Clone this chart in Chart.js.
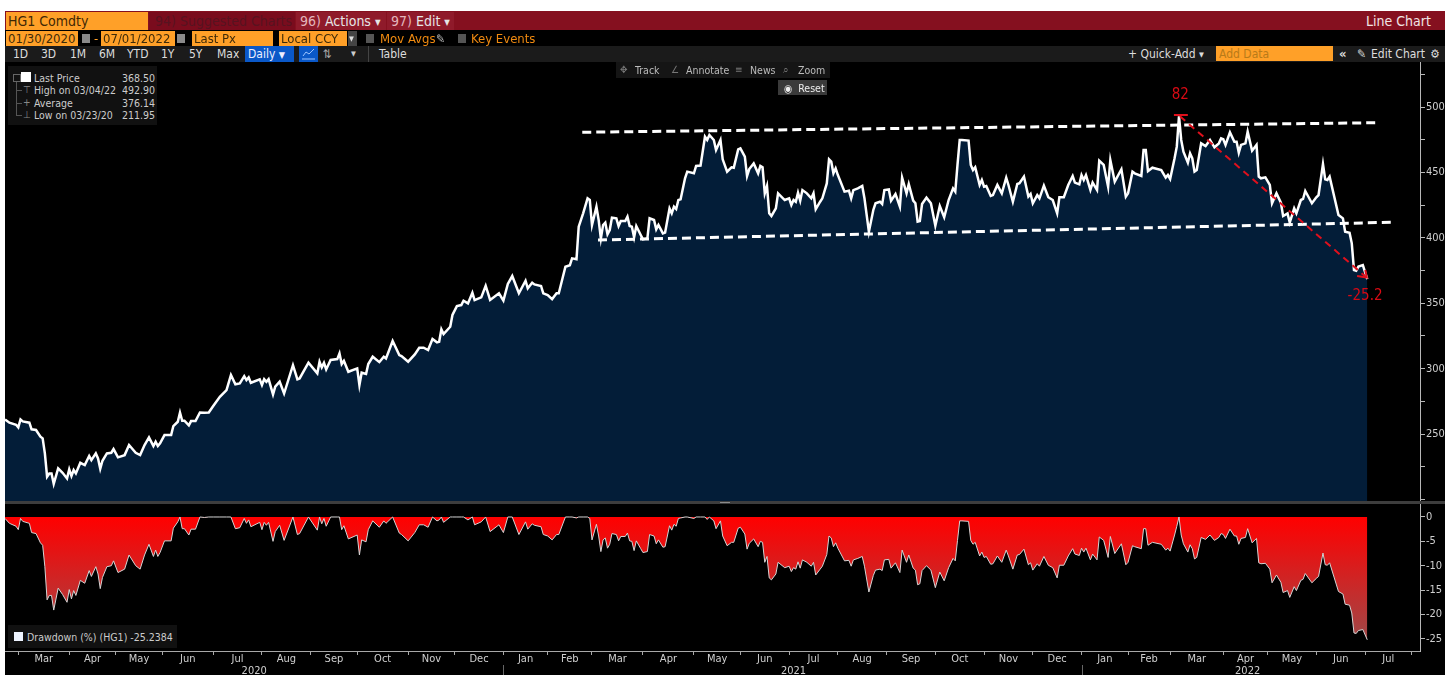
<!DOCTYPE html>
<html><head><meta charset="utf-8">
<script src="https://cdn.jsdelivr.net/npm/chart.js@4"></script>
<style>
html,body{margin:0;padding:0;background:#fff;overflow:hidden;width:1452px;height:675px}
#screen{position:absolute;left:5px;top:11px;width:1440px;height:664px;background:#000}
canvas{position:absolute;left:0;top:0}
.t{position:absolute;white-space:nowrap;font-family:"DejaVu Sans Condensed","DejaVu Sans",sans-serif;line-height:16px;height:16px}
.b{position:absolute}
.o{background:#ffa028;color:#3f2b08}
</style></head><body>
<div id="screen"></div>
<canvas id="c" width="1452" height="675"></canvas>
<!-- row 1 -->
<div class="b" style="left:5px;top:11px;width:1440px;height:19px;background:#85101f"></div>
<div class="b" style="left:149px;top:12px;width:146px;height:18px;background:#7a0c1d"></div>
<div class="b" style="left:296px;top:12px;width:90px;height:18px;background:#8f1a2a"></div>
<div class="b" style="left:387px;top:12px;width:67px;height:18px;background:#8f1a2a"></div>
<div class="t o" style="left:6px;top:12px;width:137px;height:18px;line-height:19px;padding-left:2px;font-size:14px;color:#3f2805;padding-right:3px">HG1 Comdty</div>
<div class="t" style="left:155px;top:12px;font-size:14px;line-height:18px;color:#571320">94) Suggested Charts</div>
<div class="t" style="left:300px;top:12px;font-size:14px;line-height:18px;color:#e6e6e6"><span style="color:#e3b5bc">96)</span> Actions <span style="font-size:8px;vertical-align:1px">▼</span></div>
<div class="t" style="left:391px;top:12px;font-size:14px;line-height:18px;color:#e6e6e6"><span style="color:#e3b5bc">97)</span> Edit <span style="font-size:8px;vertical-align:1px">▼</span></div>
<div class="t" style="left:1366px;top:12px;font-size:14px;line-height:18px;color:#f0e4e4">Line Chart</div>
<!-- row 2 -->
<div class="t o" style="left:6px;top:31px;width:70px;padding-left:2px;font-size:13px">01/30/2020</div>
<div class="b" style="left:82px;top:34px;width:8px;height:9px;background:#8a8a8a"></div>
<div class="t" style="left:94px;top:31px;font-size:13px;color:#ffa028">-</div>
<div class="t o" style="left:101px;top:31px;width:72px;padding-left:2px;font-size:13px">07/01/2022</div>
<div class="b" style="left:177px;top:34px;width:8px;height:9px;background:#8a8a8a"></div>
<div class="t o" style="left:192px;top:31px;width:79px;padding-left:2px;font-size:13px">Last Px</div>
<div class="t o" style="left:279px;top:31px;width:66px;padding-left:2px;font-size:13px">Local CCY</div>
<div class="b" style="left:348px;top:31px;width:9px;height:16px;background:#444"></div>
<div class="t" style="left:349px;top:31px;font-size:7px;color:#ddd">▼</div>
<div class="b" style="left:366px;top:34px;width:8px;height:9px;background:#555"></div>
<div class="t" style="left:380px;top:31px;font-size:13px;color:#f08a10">Mov Avgs</div>
<div class="t" style="left:436px;top:31px;font-size:12px;color:#bbb">✎</div>
<div class="b" style="left:458px;top:34px;width:8px;height:9px;background:#555"></div>
<div class="t" style="left:471px;top:31px;font-size:13px;color:#f08a10">Key Events</div>
<!-- row 3 -->
<div class="b" style="left:5px;top:46px;width:1440px;height:16px;background:#1b1b1b"></div>
<div class="t" style="left:13px;top:46px;font-size:12px;color:#ddd">1D</div>
<div class="t" style="left:41px;top:46px;font-size:12px;color:#ddd">3D</div>
<div class="t" style="left:70px;top:46px;font-size:12px;color:#ddd">1M</div>
<div class="t" style="left:99px;top:46px;font-size:12px;color:#ddd">6M</div>
<div class="t" style="left:127px;top:46px;font-size:12px;color:#ddd">YTD</div>
<div class="t" style="left:161px;top:46px;font-size:12px;color:#ddd">1Y</div>
<div class="t" style="left:189px;top:46px;font-size:12px;color:#ddd">5Y</div>
<div class="t" style="left:217px;top:46px;font-size:12px;color:#ddd">Max</div>
<div class="t" style="left:245px;top:46px;width:46px;padding-left:3px;background:#0a58c8;font-size:12px;color:#eef">Daily <span style="font-size:9px">▼</span></div>
<div class="b" style="left:299px;top:46px;width:19px;height:16px;background:#0a58c8"></div>
<svg class="b" style="left:302px;top:48px" width="13" height="12"><polyline points="1,8 4,4 7,6 12,1" fill="none" stroke="#9cc4ff" stroke-width="1"/><line x1="0" y1="11" x2="13" y2="11" stroke="#9cc4ff"/></svg>
<div class="t" style="left:323px;top:46px;font-size:12px;color:#aaa">⇅</div>
<div class="t" style="left:351px;top:46px;font-size:7px;color:#ccc">▼</div>
<div class="b" style="left:368px;top:46px;width:1px;height:16px;background:#444"></div>
<div class="t" style="left:379px;top:46px;font-size:12px;color:#ddd">Table</div>
<div class="t" style="left:1128px;top:46px;font-size:12px;color:#ddd">+ Quick-Add <span style="font-size:7px;vertical-align:1px">▼</span></div>
<div class="t o" style="left:1216px;top:46px;width:114px;padding-left:3px;font-size:12px;color:#b87a18;height:15px">Add Data</div>
<div class="t" style="left:1339px;top:46px;font-size:13px;font-weight:bold;color:#ddd">«</div>
<div class="t" style="left:1357px;top:46px;font-size:12px;color:#ddd">✎</div>
<div class="t" style="left:1371px;top:46px;font-size:12px;color:#ddd">Edit Chart</div>
<div class="t" style="left:1430px;top:46px;font-size:12px;color:#ddd">⚙</div>
<!-- chart tools -->
<div class="b" style="left:616px;top:62px;width:214px;height:16px;background:#151515"></div>
<div class="t" style="left:620px;top:62px;font-size:10px;color:#777">✥</div>
<div class="t" style="left:635px;top:62px;font-size:10.5px;color:#bbb">Track</div>
<div class="t" style="left:671px;top:62px;font-size:10px;color:#777">∠</div>
<div class="t" style="left:686px;top:62px;font-size:10.5px;color:#bbb">Annotate</div>
<div class="t" style="left:735px;top:62px;font-size:10px;color:#777">≡</div>
<div class="t" style="left:750px;top:62px;font-size:10.5px;color:#bbb">News</div>
<div class="t" style="left:783px;top:62px;font-size:10px;color:#777">⌕</div>
<div class="t" style="left:798px;top:62px;font-size:10.5px;color:#bbb">Zoom</div>
<div class="b" style="left:778px;top:80px;width:49px;height:15px;background:#3a3a3a"></div>
<div class="t" style="left:784px;top:80px;font-size:10.5px;color:#eee">◉&nbsp;&nbsp;Reset</div>
<!-- legends -->
<div class="b" style="left:8px;top:66px;width:149px;height:59px;background:#111"></div>
<div class="b" style="left:16px;top:82px;width:1px;height:33px;background:#555"></div>
<div class="b" style="left:16px;top:90px;width:6px;height:1px;background:#555"></div>
<div class="b" style="left:16px;top:103px;width:6px;height:1px;background:#555"></div>
<div class="b" style="left:16px;top:115px;width:6px;height:1px;background:#555"></div>
<div class="b" style="left:13px;top:74px;width:6px;height:6px;border:1px solid #666"></div>
<div class="b" style="left:21px;top:72px;width:10px;height:10px;background:#fff"></div>
<div class="t" style="left:23px;top:82px;font-size:10px;color:#888">⊤</div>
<div class="t" style="left:23px;top:95px;font-size:10px;color:#888">+</div>
<div class="t" style="left:23px;top:107px;font-size:10px;color:#888">⊥</div>
<div class="t" style="left:34px;top:70px;font-size:10.5px;color:#ccc">Last Price</div>
<div class="t" style="left:122px;top:70px;font-size:10.5px;color:#ccc">368.50</div>
<div class="t" style="left:34px;top:82px;font-size:10.5px;color:#ccc">High on 03/04/22</div>
<div class="t" style="left:122px;top:82px;font-size:10.5px;color:#ccc">492.90</div>
<div class="t" style="left:34px;top:95px;font-size:10.5px;color:#ccc">Average</div>
<div class="t" style="left:122px;top:95px;font-size:10.5px;color:#ccc">376.14</div>
<div class="t" style="left:34px;top:107px;font-size:10.5px;color:#ccc">Low on 03/23/20</div>
<div class="t" style="left:122px;top:107px;font-size:10.5px;color:#ccc">211.95</div>
<div class="b" style="left:8px;top:625px;width:169px;height:23px;background:#111"></div>
<div class="b" style="left:14px;top:632px;width:9px;height:9px;background:#eef4ff"></div>
<div class="t" style="left:27px;top:629px;font-size:10.5px;color:#ccc">Drawdown (%) (HG1) -25.2384</div>
<script>
const sessions = [
-6,-4,-1,0,1,2,5,6,8,10,
11,12,13,14,15,16,18,20,22,23,
24,25,26,28,30,32,33,35,36,37,
38,40,42,43,45,48,50,53,55,57,
59,61,62,63,64,66,69,70,72,73,
74,75,77,78,80,82,84,86,88,91,
94,96,98,100,102,103,104,105,109,110,
111,112,113,115,116,118,120,124,126,127,
131,135,136,137,138,139,141,144,145,146,
147,149,153,154,155,157,158,160,163,165,
166,169,172,173,176,179,181,183,185,187,
189,190,191,192,195,196,198,200,201,203,
205,206,209,211,213,217,219,221,223,226,
229,230,232,233,236,237,239,241,243,244,
247,249,250,252,253,255,257,258,259,261,
262,263,264,265,266,267,268,270,271,272,
274,275,276,277,278,279,281,282,284,285,
287,288,289,291,292,294,295,296,297,298,
299,301,302,305,306,308,310,311,312,314,
315,317,318,320,322,323,325,326,328,329,
330,332,334,335,336,337,338,339,340,342,
343,346,348,349,350,351,352,353,354,356,
358,359,360,362,363,365,366,367,368,369,
370,373,375,376,377,379,381,382,384,386,
387,389,390,391,393,394,396,398,399,401,
402,404,405,406,407,408,410,412,414,416,
418,420,422,423,424,425,426,429,430,431,
432,434,435,436,437,439,440,442,444,446,
447,449,451,452,454,456,457,458,460,461,
463,465,467,469,470,472,474,476,477,479,
480,481,482,484,485,487,488,490,492,493,
495,498,500,501,503,504,507,508,509,510,
512,516,518,519,520,522,523,524,525,526,
528,529,530,531,532,534,536,538,540,542,
543,544,545,547,549,550,551,552,554,555,
557,559,560,561,563,565,566,568,570,571,
573,574,576,577,579,580,581,584,586,587,
589,590,591,592,596,598,599,601,602,603,
604,605,607,609];
const lastPrice = [
261.2,258.7,257.1,255.1,261.2,259.7,258.7,253.6,253.1,248,
246.7,235.2,217.4,219.9,219.9,212,223.7,220.4,216.1,223,
217.9,222.5,219.9,228,226.3,233.2,230.1,235.2,231.4,223.5,
229.6,235.2,235.7,238.5,232.2,233.9,241.6,235.7,233.9,241.6,
247.4,240.8,244.1,240.8,242.9,249.2,249.2,256.1,259.4,266.5,
260.2,260.2,256.6,259.9,259.9,266.5,266.3,266.5,271.4,278.5,
283.6,295.1,288,288.7,294.3,291.3,293.3,289.2,291.8,287.5,
292,290,292,280.3,286.2,290,281,302.7,291.8,292.5,
304.5,296.4,305.3,301,304.5,299.4,306.6,307.3,311.7,303.5,
306,297.6,300.2,287.4,296.9,295.9,303.5,309.1,305,309.1,
307.8,321.1,310.4,309.6,305.3,310.9,316,316,314.2,322.6,
320.1,320.6,330,326.4,332,341,347.8,348.6,351.9,349.9,
358,352.4,354.5,363.4,352.5,357.6,352,364.7,370.8,357.6,
367.2,361.4,365.7,364.4,363.2,357.6,356.3,353.2,357.6,357.6,
377.9,379,384.3,383.6,408.5,418.7,430.2,428.9,409.8,423.8,
413.6,399.6,409.8,411.6,402.7,406,415.4,414.9,409,412.9,
412.9,416.2,409,408.5,400.4,409,402.2,398.8,399.6,414.9,
413.6,406.5,409.8,403.4,404,422.5,418.7,423.8,422,428.9,
429.4,445.5,450.6,449.3,454.9,455.2,477.3,474.8,478.6,474.8,
467.1,474.8,460,450.6,453.9,453.6,467.6,468.4,462,447.2,
452.6,456.9,449.3,454.9,453.9,434,439.6,418.7,416.7,422.5,
434,428.9,430.2,425.1,428.9,427.6,434.5,428.4,436.5,434,
430.2,434,421.8,427.6,430.2,441.6,460,458.2,449.3,453.1,
448,435.3,436,430.2,436.5,437.8,439.6,430.2,404.7,421.3,
426.4,427.6,425.8,436.5,437,428.4,433.5,423.8,446,434,
441.1,428.4,426.4,412.3,412.8,425.8,430.7,426.4,409.3,424.3,
415.7,428.9,437.8,435.3,455.7,474.8,474.8,474.3,455.7,451.8,
453.9,440.4,444.2,439.1,439.6,432,432.7,440.4,434,446,
440.4,427.6,441.1,441.7,446.8,431.5,433.5,426.4,432.7,430.2,
439.9,431,428.9,418.7,431,431,440.4,447.3,442.2,440.9,
448,444.2,448,436.6,442.2,436.6,459,455.7,439.1,459.5,
442.9,452.4,431.5,434,450.6,449.3,447.3,467.1,467.1,451,
453.6,451.8,446,448,445,460.8,469.7,492.9,474.8,465.9,
457.5,464.6,460.8,450.6,451.8,472.2,470.2,474.8,469.2,472.2,
476,475.3,471,480.6,473.5,473.5,465.1,471,472.2,481.2,
466.6,471,446.8,445.5,446.2,440.4,426.4,434,426.9,416.7,
418.7,411.6,422.5,418.7,428.9,429.7,435.8,426.4,431,432.7,
456.4,444.7,444.2,446.8,417.4,414.9,404.7,403.9,395.8,375.4,
374.9,378,379.2,368.5];
const drawdownPct = [
-0.3,-1.3,-1.9,-2.6,-0.3,-0.9,-1.3,-3.2,-3.4,-5.3,
-5.8,-10.2,-17,-16.1,-16.1,-19.1,-14.6,-15.9,-17.5,-14.9,
-16.8,-15.1,-16.1,-13,-13.6,-11,-12.2,-10.2,-11.7,-14.7,
-12.4,-10.2,-10,-9,-11.4,-10.7,-7.8,-10,-10.7,-7.8,
-5.6,-8.1,-6.8,-8.1,-7.3,-4.9,-4.9,-2.3,-1,0,
-2.4,-2.4,-3.7,-2.5,-2.5,0,-0.1,0,0,0,
0,0,-2.4,-2.2,-0.3,-1.3,-0.6,-2,-1.1,-2.6,
-1.1,-1.7,-1.1,-5,-3,-1.7,-4.8,0,-3.6,-3.4,
0,-2.7,0,-1.4,-0.3,-1.9,0,0,0,-2.6,
-1.8,-4.5,-3.7,-7.8,-4.7,-5.1,-2.6,-0.8,-2.1,-0.8,
-1.3,0,-3.3,-3.6,-4.9,-3.2,-1.6,-1.6,-2.1,0,
-0.8,-0.6,0,-1.1,0,0,0,0,0,-0.6,
0,-1.6,-1,0,-3,-1.6,-3.2,0,0,-3.6,
-1,-2.5,-1.4,-1.7,-2,-3.6,-3.9,-4.7,-3.6,-3.6,
0,0,0,-0.2,0,0,0,-0.3,-4.7,-1.5,
-3.9,-7.1,-4.7,-4.3,-6.4,-5.6,-3.4,-3.6,-4.9,-4,
-4,-3.3,-4.9,-5,-6.9,-4.9,-6.5,-7.3,-7.1,-3.6,
-3.9,-5.5,-4.7,-6.2,-6.1,-1.8,-2.7,-1.5,-1.9,-0.3,
-0.2,0,0,-0.3,0,0,0,-0.5,0,-0.8,
-2.4,-0.8,-3.9,-5.9,-5.2,-5.2,-2.3,-2.1,-3.5,-6.6,
-5.4,-4.5,-6.1,-5,-5.2,-9.3,-8.1,-12.5,-12.9,-11.7,
-9.3,-10.4,-10.1,-11.2,-10.4,-10.7,-9.2,-10.5,-8.8,-9.3,
-10.1,-9.3,-11.9,-10.7,-10.1,-7.7,-3.9,-4.3,-6.1,-5.3,
-6.4,-9,-8.9,-10.1,-8.8,-8.5,-8.1,-10.1,-15.4,-12,
-10.9,-10.7,-11,-8.8,-8.7,-10.5,-9.4,-11.4,-6.8,-9.3,
-7.8,-10.5,-10.9,-13.9,-13.7,-11,-10,-10.9,-14.5,-11.3,
-13.1,-10.4,-8.5,-9,-4.8,-0.8,-0.8,-0.9,-4.8,-5.6,
-5.2,-8,-7.2,-8.3,-8.1,-9.7,-9.6,-8,-9.3,-6.8,
-8,-10.7,-7.8,-7.7,-6.6,-9.8,-9.4,-10.9,-9.6,-10.1,
-8.1,-9.9,-10.4,-12.5,-9.9,-9.9,-8,-6.5,-7.6,-7.9,
-6.4,-7.2,-6.4,-8.8,-7.6,-8.8,-4.1,-4.8,-8.3,-4,
-7.5,-5.5,-9.8,-9.3,-5.9,-6.1,-6.5,-2.4,-2.4,-5.8,
-5.2,-5.6,-6.8,-6.4,-7,-3.7,-1.9,0,-3.7,-5.5,
-7.2,-5.7,-6.5,-8.6,-8.3,-4.2,-4.6,-3.7,-4.8,-4.2,
-3.4,-3.6,-4.4,-2.5,-3.9,-3.9,-5.6,-4.4,-4.2,-2.4,
-5.3,-4.4,-9.4,-9.6,-9.5,-10.7,-13.5,-11.9,-13.4,-15.5,
-15.1,-16.5,-14.3,-15.1,-13,-12.8,-11.6,-13.5,-12.6,-12.2,
-7.4,-9.8,-9.9,-9.4,-15.3,-15.8,-17.9,-18.1,-19.7,-23.8,
-23.9,-23.3,-23.1,-25.2];

// session number of the first trading day of each month, Mar 2020 to Aug 2022
const monthStarts = [0,23,44,65,88,110,132,153,176,197,219,239,259,282,305,326,348,370,392,414,436,458,480,501,520,544,564,586,608,629];
const monthNames = ['Mar','Apr','May','Jun','Jul','Aug','Sep','Oct','Nov','Dec','Jan','Feb','Mar','Apr','May','Jun','Jul','Aug','Sep','Oct','Nov','Dec','Jan','Feb','Mar','Apr','May','Jun','Jul'];
const yearNames = ['2020','2021','2022'];
const yearCentres = [106.5,350,555];
const yearBreaks = [219,480];

// hand-drawn annotations, as [session, price]
const resistanceLine = [[254.6,480.7],[614,488]];
const supportLine = [[261.7,398.3],[620.7,411.9]];
const peakToLast = [[524.4,492.9],[608.6,369.8]];
const peakCap = [[521.7,493.9],[528,493.9]];
const arrowHead = [[604.4,370.8],[608.8,369.6],[608.1,375.4]];
const noteLabels = [{t:'82',x:524.6,y:509.2},{t:'-25.2',x:608,y:355.5}];

const pts = a => a.map(p => ({x:p[0],y:p[1]}));
const monthLabelAt = new Map();
monthNames.forEach((m,i)=>monthLabelAt.set((monthStarts[i]+monthStarts[i+1])/2,m));
const allTicks = [...new Set([...monthStarts,...monthLabelAt.keys()])].sort((a,b)=>a-b);
const boundary = new Set(monthStarts);
const axisFont = {family:'"DejaVu Sans Condensed","DejaVu Sans",sans-serif',size:11};

const paneDecor = {
  id:'paneDecor',
  afterDatasetsDraw(chart){
    const {ctx} = chart;
    ctx.save();
    ctx.fillStyle='#3d3d3d'; ctx.fillRect(5,501,1440,3);
    ctx.fillStyle='#8a8a8a'; ctx.fillRect(720,502,10,1);
    const sx = chart.scales.x, sy = chart.scales.yPrice;
    ctx.fillStyle='#d80a14'; ctx.font='15px "DejaVu Sans Condensed","DejaVu Sans",sans-serif';
    ctx.textAlign='center'; ctx.textBaseline='middle';
    noteLabels.forEach(n=>ctx.fillText(n.t,sx.getPixelForValue(n.x),sy.getPixelForValue(n.y)));
    ctx.fillStyle='#cfcfcf'; ctx.font='11px "DejaVu Sans Condensed","DejaVu Sans",sans-serif';
    yearNames.forEach((y,i)=>ctx.fillText(y,sx.getPixelForValue(yearCentres[i]),671));
    ctx.strokeStyle='#666'; ctx.lineWidth=1;
    yearBreaks.forEach(v=>{const p=Math.round(sx.getPixelForValue(v))+.5;ctx.beginPath();ctx.moveTo(p,665);ctx.lineTo(p,675);ctx.stroke();});
    ctx.restore();
  }
};

new Chart(document.getElementById('c'),{
  type:'line',
  plugins:[paneDecor],
  data:{datasets:[
    {label:'Last Price',data:sessions.map((s,i)=>({x:s,y:lastPrice[i]})),yAxisID:'yPrice',borderColor:'#ffffff',borderWidth:2.5,
     backgroundColor:'#031d38',fill:'start',pointRadius:0,tension:0,order:5},
    {label:'Drawdown (%) (HG1)',data:sessions.map((s,i)=>({x:s,y:drawdownPct[i]})),yAxisID:'yDraw',borderColor:'#d4d4d4',borderWidth:1,
     backgroundColor(c){const sc=c.chart.scales.yDraw;if(!sc)return '#f00';
       const a=sc.getPixelForValue(0),b=sc.getPixelForValue(-25.2);
       if(!isFinite(a)||!isFinite(b))return '#f00';
       const g=c.chart.ctx.createLinearGradient(0,a,0,b);
       g.addColorStop(0,'#ff0000');g.addColorStop(1,'#a04848');return g;},
     fill:'origin',pointRadius:0,tension:0,order:6},
    {label:'Resistance',data:pts(resistanceLine),yAxisID:'yPrice',borderColor:'#ffffff',borderWidth:3,borderDash:[9,5],pointRadius:0,fill:false,order:2},
    {label:'Support',data:pts(supportLine),yAxisID:'yPrice',borderColor:'#ffffff',borderWidth:3,borderDash:[9,5],pointRadius:0,fill:false,order:2},
    {label:'Peak to last',data:pts(peakToLast),yAxisID:'yPrice',borderColor:'#e0101c',borderWidth:2,borderDash:[7,5],pointRadius:0,fill:false,order:1},
    {label:'Peak cap',data:pts(peakCap),yAxisID:'yPrice',borderColor:'#e0101c',borderWidth:2,pointRadius:0,fill:false,order:1},
    {label:'Arrow',data:pts(arrowHead),yAxisID:'yPrice',borderColor:'#e0101c',borderWidth:2,pointRadius:0,fill:false,order:1}
  ]},
  options:{
    responsive:false,animation:false,events:[],
    layout:{padding:{top:62,left:5,right:0,bottom:0}},
    plugins:{legend:{display:false},tooltip:{enabled:false},title:{display:false}},
    scales:{
      x:{type:'linear',position:'bottom',min:-6,max:632.8,
        border:{color:'#a8a8a8',width:1},
        grid:{drawOnChartArea:false,drawTicks:true,tickLength:4,tickColor:c=>(c.tick&&boundary.has(c.tick.value))?'#a8a8a8':'rgba(0,0,0,0)'},
        ticks:{autoSkip:false,maxRotation:0,minRotation:0,padding:-2,color:'#cfcfcf',font:axisFont,callback:v=>monthLabelAt.get(v)||''},
        afterBuildTicks:s=>{s.ticks=allTicks.map(v=>({value:v}));},
        afterFit:s=>{s.height=24;}},
      yPrice:{type:'linear',position:'right',stack:'panes',stackWeight:441,min:197.3,max:534.4,
        border:{color:'#b8b8b8',width:1},
        grid:{drawOnChartArea:false,tickLength:5,tickColor:'#b8b8b8'},
        ticks:{stepSize:25,includeBounds:false,padding:1,color:'#cfcfcf',font:axisFont,autoSkip:false,
          callback:v=>(v%50===0&&v>=250&&v<=500)?String(v):''},
        afterFit:s=>{s.width=32;}},
      yDraw:{type:'linear',position:'right',stack:'panes',stackWeight:148,min:-27.5,max:2.87,
        border:{color:'#b8b8b8',width:1},
        grid:{drawOnChartArea:false,tickLength:5,tickColor:'#b8b8b8'},
        ticks:{stepSize:5,includeBounds:false,padding:1,color:'#cfcfcf',font:axisFont,autoSkip:false,callback:v=>String(v)},
        afterFit:s=>{s.width=32;}}
    }
  }
});
</script>
</body></html>
